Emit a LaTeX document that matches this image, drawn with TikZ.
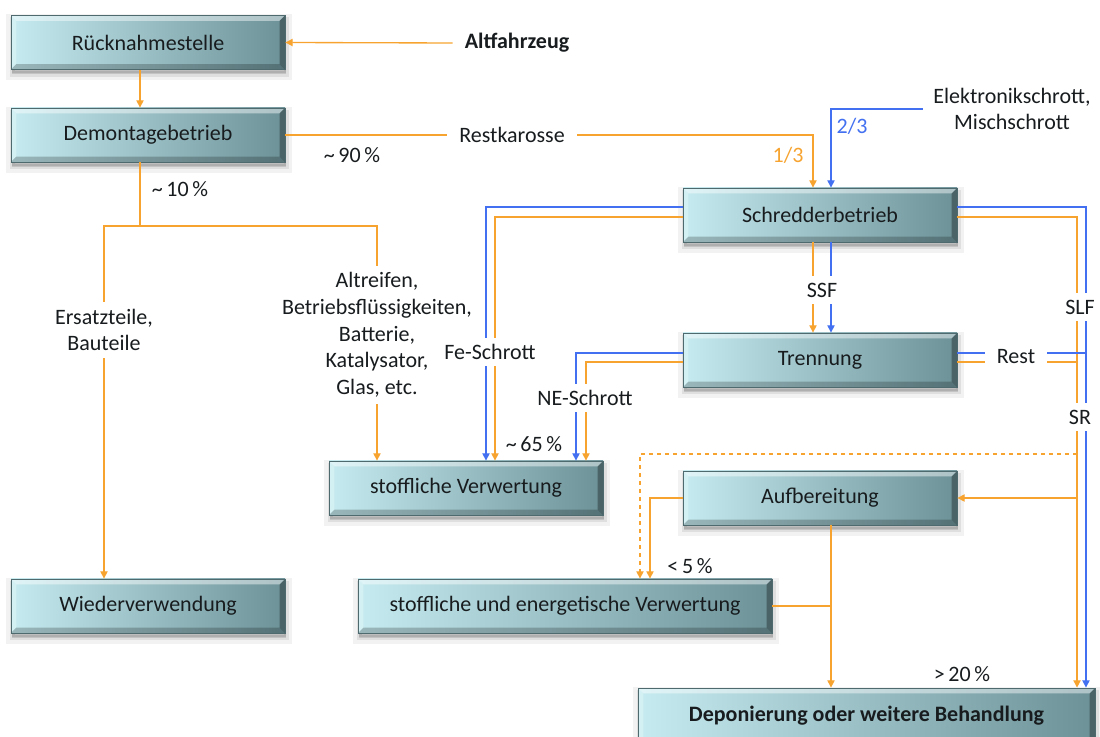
\documentclass[tikz,border=0pt]{standalone}
\usepackage{fontspec}
\setmainfont{Carlito}
\usetikzlibrary{arrows.meta,shadows}

\definecolor{flowO}{RGB}{246,163,48}
\definecolor{flowB}{RGB}{66,112,240}
\definecolor{faceL}{RGB}{198,236,241}
\definecolor{faceR}{RGB}{108,146,152}
\definecolor{edgeC}{RGB}{78,106,111}
\definecolor{ink}{RGB}{24,28,30}

\tikzset{
  txt/.style={font=\fontsize{16.5}{20}\selectfont, text=ink},
  bevel/.style={path picture={
    \coordinate (bnw) at (path picture bounding box.north west);
    \coordinate (bne) at (path picture bounding box.north east);
    \coordinate (bsw) at (path picture bounding box.south west);
    \coordinate (bse) at (path picture bounding box.south east);
    \fill[white,opacity=.45] (bnw) -- (bne) -- ([shift={(-4pt,-4pt)}]bne) -- ([shift={(4pt,-4pt)}]bnw) -- cycle;
    \fill[white,opacity=.25] (bnw) -- ([shift={(4pt,-4pt)}]bnw) -- ([shift={(4pt,4pt)}]bsw) -- (bsw) -- cycle;
    \fill[black,opacity=.22] (bsw) -- ([shift={(4pt,4pt)}]bsw) -- ([shift={(-4pt,4pt)}]bse) -- (bse) -- cycle;
    \fill[black,opacity=.32] (bne) -- ([shift={(-4pt,-4pt)}]bne) -- ([shift={(-4pt,4pt)}]bse) -- (bse) -- cycle;
  }},
  softshadow/.style={
    general shadow={fill=black, draw=black, line width=9pt, opacity=0.05, shadow xshift=1pt, shadow yshift=-3.5pt},
    general shadow={fill=black, draw=black, line width=4pt, opacity=0.08, shadow xshift=1pt, shadow yshift=-3.5pt},
    general shadow={fill=black, opacity=0.10, shadow xshift=1pt, shadow yshift=-3pt},
  },
  box/.style={txt, softshadow, draw=edgeC, line width=0.6pt, left color=faceL, right color=faceR,
    minimum width=205.5pt, minimum height=40.5pt, inner sep=0pt, bevel},
  lbl/.style={txt, fill=white, inner sep=5pt, align=center},
  plain/.style={txt, inner sep=1pt, align=center},
  fo/.style={draw=flowO, line width=1pt},
  fb/.style={draw=flowB, line width=1pt},
  >={Triangle[length=5.5pt,width=5.5pt]},
}

\begin{document}
\begin{tikzpicture}[x=0.75pt,y=-0.75pt]
\useasboundingbox (0,0) rectangle (1100,737);

% process stages
\node[box] (rueck)  at (148,42.5) {Rücknahmestelle};
\node[box] (demo)   at (148,135)  {Demontagebetrieb};
\node[box] (schred) at (820,215)  {Schredderbetrieb};
\node[box] (trenn)  at (820,360)  {Trennung};
\node[box] (aufb)   at (820,498)  {Aufbereitung};
\node[box] (stoffv) at (466,488)  {stoffliche Verwertung};
\node[box] (wieder) at (148,606)  {Wiederverwendung};
\node[box, minimum width=310.5pt] (stoffe) at (565,606) {stoffliche und energetische Verwertung};
\node[box, minimum width=342.75pt, minimum height=42pt, font=\fontsize{16.5}{20}\selectfont\bfseries] (depon) at (866.5,716) {Deponierung oder weitere Behandlung};

% inputs
\node[plain, inner xsep=9pt, font=\fontsize{16.5}{20}\selectfont\bfseries] (alt) at (517,43) {Altfahrzeug};
\node[plain, inner xsep=8pt] (elek) at (1012,109) {Elektronikschrott,\\Mischschrott};

% junction points on the shredder residue lines
\coordinate (restB) at (1086,353);
\coordinate (restO) at (1077,362);
\coordinate (dashO) at (1077,454);
\coordinate (aufIn) at (1077,498);
\coordinate (seJoin) at (831,606);
\coordinate (split) at (140,226);

% dismantling
\draw[fo,->] (alt.west) -- (rueck.east);
\draw[fo,->] ([xshift=-6pt]rueck.south) -- ([xshift=-6pt]demo.north);
\draw[fo] ([xshift=-6pt]demo.south) -- (split);
\draw[fo,->] (split) -| ([xshift=-33pt]wieder.north);
\draw[fo,->] (split) -| ([xshift=-66.75pt]stoffv.north);

% feed of the shredder
\draw[fo,->] (demo.east) -| ([xshift=-5.25pt]schred.north);
\draw[fb,->] (elek.west) -| ([xshift=8.25pt]schred.north);

% shredder outputs
\draw[fb,->] ([yshift=6pt]schred.west) -| ([xshift=15pt]stoffv.north);
\draw[fo,->] ([yshift=-1.5pt]schred.west) -| ([xshift=21.75pt]stoffv.north);
\draw[fb,->] ([yshift=6pt]schred.east) -| ([xshift=164.6pt]depon.north);
\draw[fo,->] ([yshift=-1.5pt]schred.east) -| ([xshift=157.9pt]depon.north);
\draw[fo,->] ([xshift=-5.25pt]schred.south) -- ([xshift=-5.25pt]trenn.north);
\draw[fb,->] ([xshift=8.25pt]schred.south) -- ([xshift=8.25pt]trenn.north);

% separation outputs
\draw[fb,->] ([yshift=5.25pt]trenn.west) -| ([xshift=82.5pt]stoffv.north);
\draw[fo,->] ([yshift=-1.5pt]trenn.west) -| ([xshift=90pt]stoffv.north);
\draw[fb] ([yshift=5.25pt]trenn.east) -- (restB);
\draw[fo] ([yshift=-1.5pt]trenn.east) -- (restO);

% light fraction treatment
\draw[fo,->] (aufIn) -- (aufb.east);
\draw[fo,dashed,->] (dashO) -| ([xshift=56.25pt]stoffe.north);
\draw[fo,->] (aufb.west) -| ([xshift=63.75pt]stoffe.north);
\draw[fo,->] ([xshift=8.25pt]aufb.south) -- ([xshift=-26.625pt]depon.north);
\draw[fo] (stoffe.east) -- (seJoin);

% flow labels
\node[lbl, inner xsep=9pt] (lRestk) at (512,135) {Restkarosse};
\node[plain] (l90) at (352,155) {\textasciitilde\,90\,\%};
\node[plain, text=flowO] (l13) at (788,155) {1/3};
\node[plain, text=flowB] (l23) at (852,126) {2/3};
\node[plain] (l10) at (180,189) {\textasciitilde\,10\,\%};
\node[lbl] (lErs) at (104,330) {Ersatzteile,\\Bauteile};
\node[lbl] (lAltr) at (377,335) {Altreifen,\\Betriebsflüssigkeiten,\\Batterie,\\Katalysator,\\Glas, etc.};
\node[lbl] (lFe) at (490,352) {Fe-Schrott};
\node[lbl] (lNE) at (585,398) {NE-Schrott};
\node[lbl] (lSSF) at (822,290) {SSF};
\node[lbl] (lSLF) at (1080,307) {SLF};
\node[lbl] (lSR) at (1080,417) {SR};
\node[lbl, inner xsep=9pt] (lRest) at (1016,357) {Rest};
\node[plain] (l65) at (534,444) {\textasciitilde\,65\,\%};
\node[plain] (l5) at (690,566) {<\,5\,\%};
\node[plain] (l20) at (962,674) {>\,20\,\%};
\end{tikzpicture}
\end{document}
